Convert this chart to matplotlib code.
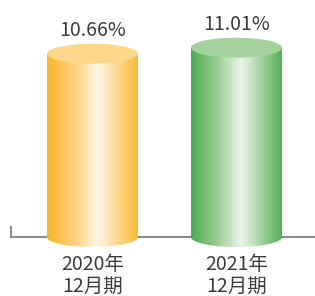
import numpy as np
import matplotlib
matplotlib.use("Agg")
import matplotlib.pyplot as plt
from matplotlib.colors import LinearSegmentedColormap
from matplotlib.patches import Ellipse, Polygon

plt.rcParams['font.family'] = ['Noto Sans CJK JP', 'DejaVu Sans']

categories = ['2020年\n12月期', '2021年\n12月期']
values = [10.66, 11.01]
value_labels = ['10.66%', '11.01%']

# body gradient (edge -> highlight -> edge) and top colour per cylinder
body_colors = [
    ['#fdb626', '#fdd27e', '#fff6e6', '#fdd68a', '#fdb92c'],
    ['#47ad4b', '#9fd09a', '#eaf5e8', '#9fd09a', '#4fb153'],
]
top_colors = ['#fdd88c', '#a5d29c']

fig = plt.figure(figsize=(3.15, 2.96), dpi=100)
ax = fig.add_axes([0, 0, 1, 1])
ax.set_xlim(-0.642, 1.545)
ax.set_ylim(-3.43, 13.78)
ax.axis('off')

half_w = 0.316
ell_h = 1.16  # full height of the ellipse in data units

# baseline with small left tick
x0 = ax.get_xlim()[0] + 11 / 144
ax.plot([x0, x0, ax.get_xlim()[1]], [0.58, 0, 0], color='#8c8c8c', lw=1.5,
        solid_joinstyle='miter', zorder=1)

t = np.linspace(0, np.pi, 60)
for i, (v, lab) in enumerate(zip(values, value_labels)):
    x = i
    # clip outline: rectangle + lower half of the bottom ellipse
    arc_x = x + half_w * np.cos(t)
    arc_y = -ell_h / 2 * np.sin(t)
    pts = [(x - half_w, v), (x + half_w, v)] + list(zip(arc_x, arc_y))
    clip = Polygon(pts, closed=True, facecolor='none', edgecolor='none')
    ax.add_patch(clip)
    cmap = LinearSegmentedColormap.from_list(
        f'c{i}', list(zip([0, 0.3, 0.55, 0.78, 1], body_colors[i])))
    grad = np.linspace(0, 1, 256).reshape(1, -1)
    im = ax.imshow(grad, cmap=cmap, aspect='auto', zorder=2,
                   extent=(x - half_w, x + half_w, -ell_h / 2 - 0.05, v),
                   interpolation='bilinear')
    im.set_clip_path(clip)
    ax.add_patch(Ellipse((x, v), 2 * half_w, ell_h, facecolor=top_colors[i],
                         edgecolor='none', zorder=3))
    ax.annotate(lab, (x, v), xytext=(0, 23), textcoords='offset pixels',
                ha='center', va='center', fontsize=14, color='#3c3c3c')
    ax.annotate(categories[i], (x, 0), xytext=(0, -38), textcoords='offset pixels',
                ha='center', va='center', fontsize=14, color='#3c3c3c',
                linespacing=1.05)

fig.savefig('out.png', dpi=100)
